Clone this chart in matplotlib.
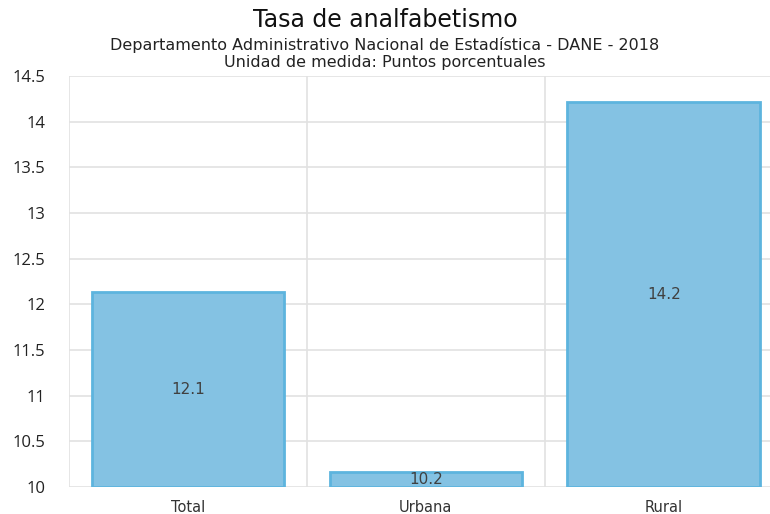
import matplotlib.pyplot as plt
import numpy as np

plt.rcParams['font.family'] = ['Open Sans', 'DejaVu Sans']

categorias = ['Total', 'Urbana', 'Rural']
valores = [12.13, 10.16, 14.22]
etiquetas = ['12.1', '10.2', '14.2']
y_ticks = [10, 10.5, 11, 11.5, 12, 12.5, 13, 13.5, 14, 14.5]
y_labels = ['10', '10.5', '11', '11.5', '12', '12.5', '13', '13.5', '14', '14.5']

ancho = ['DejaVu Sans']

fig = plt.figure(figsize=(7.7, 5.14), dpi=100)
ax = fig.add_axes([0.0896, 0.0525, 0.927, 0.7996])

x = np.arange(len(categorias))
ax.bar(x, [v - 10 for v in valores], bottom=10, width=0.81,
       color='#84c2e3', edgecolor='#5db4de', linewidth=2, zorder=3)

for xi, v, t in zip(x, valores, etiquetas):
    ax.text(xi, (v + 10) / 2, t, ha='center', va='center', fontsize=11,
            color='#404040', zorder=4, family=ancho)

ax.set_xlim(-0.5, 2.5)
ax.set_ylim(10, 14.5)
ax.set_yticks(y_ticks)
ax.set_yticklabels(y_labels, fontsize=12, color='#222222')
ax.set_xticks(x)
ax.set_xticklabels(categorias, fontsize=10.5, color='#333333', family=ancho)

# grid horizontal en cada tick, vertical entre categorias
ax.set_axisbelow(True)
ax.grid(axis='y', color='#e2e2e2', linewidth=1.2)
for b in [-0.5, 0.5, 1.5]:
    ax.axvline(b, color='#e2e2e2', linewidth=1.2, zorder=1)

for s in ax.spines.values():
    s.set_visible(False)
ax.tick_params(length=0)
ax.tick_params(axis='y', pad=17)
ax.tick_params(axis='x', pad=9)

fig.text(0.5, 0.961, 'Tasa de analfabetismo', ha='center', va='center',
         fontsize=17, color='#111111', family=ancho)
fig.text(0.5, 0.912, 'Departamento Administrativo Nacional de Estadística - DANE - 2018',
         ha='center', va='center', fontsize=11.5, color='#222222', family=ancho)
fig.text(0.5, 0.879, 'Unidad de medida: Puntos porcentuales',
         ha='center', va='center', fontsize=11.5, color='#222222', family=ancho)

plt.savefig('out.png', dpi=100)
